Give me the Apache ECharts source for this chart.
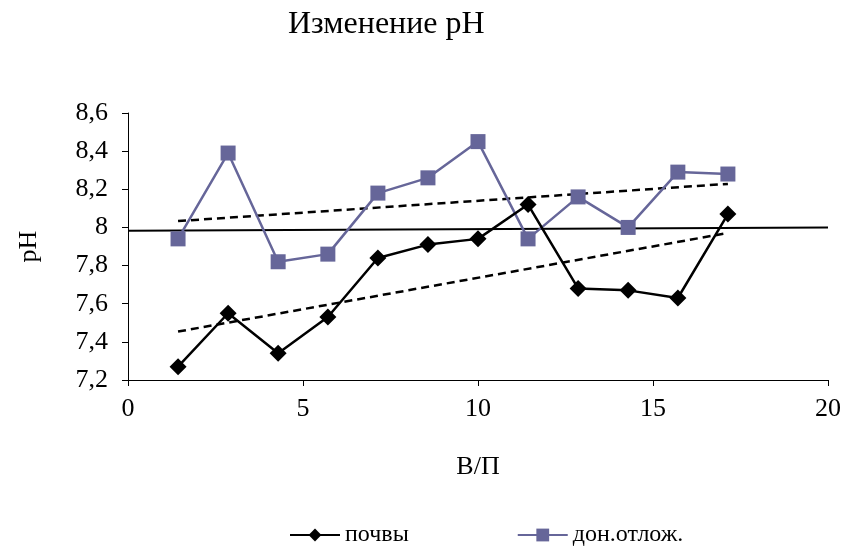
<!DOCTYPE html>
<html>
<head>
<meta charset="utf-8">
<script src="https://cdn.jsdelivr.net/npm/echarts@6/dist/echarts.min.js"></script>
<style>
  html, body { margin: 0; padding: 0; background: #fff; }
  #chart { width: 844px; height: 546px; }
</style>
</head>
<body>
<div id="chart"></div>
<script>
// В/П values shared by both series
const xValues = [1.43, 2.86, 4.29, 5.71, 7.14, 8.57, 10, 11.43, 12.86, 14.29, 15.71, 17.14];
// pH of soils
const soilPH = [7.27, 7.55, 7.34, 7.53, 7.84, 7.91, 7.94, 8.12, 7.68, 7.67, 7.63, 8.07];
// pH of bottom sediments
const sedimentPH = [7.94, 8.39, 7.82, 7.86, 8.18, 8.26, 8.45, 7.94, 8.16, 8.00, 8.29, 8.28];
// reference level (pH ≈ 8) across the axis range
const refX = [0, 20];
const refY = [7.983, 8.0];
const seriesNames = ['почвы', 'дон.отлож.'];

const FONT = '"Liberation Serif", "Times New Roman", serif';

// least-squares linear trend evaluated at the first and last x
function trend(xs, ys) {
  const n = xs.length;
  const mx = xs.reduce((a, b) => a + b, 0) / n;
  const my = ys.reduce((a, b) => a + b, 0) / n;
  let sxy = 0, sxx = 0;
  for (let i = 0; i < n; i++) {
    sxy += (xs[i] - mx) * (ys[i] - my);
    sxx += (xs[i] - mx) * (xs[i] - mx);
  }
  const k = sxy / sxx, b = my - k * mx;
  const x0 = xs[0], x1 = xs[n - 1];
  return [[x0, b + k * x0], [x1, b + k * x1]];
}

const pairs = (xs, ys) => xs.map((x, i) => [x, ys[i]]);
const fmt = v => String(Math.round(v * 10) / 10).replace('.', ',');

const chart = echarts.init(document.getElementById('chart'));
chart.setOption({
  animation: false,
  backgroundColor: '#ffffff',
  title: {
    text: 'Изменение pH',
    left: 283,
    top: 4,
    textStyle: { fontFamily: FONT, fontSize: 32, fontWeight: 'normal', color: '#000' }
  },
  grid: { left: 128, right: 15, top: 113, bottom: 166 },
  xAxis: {
    type: 'value',
    min: 0, max: 20, interval: 5,
    name: 'В/П',
    nameLocation: 'middle',
    nameGap: 74,
    nameTextStyle: { fontFamily: FONT, fontSize: 26, color: '#000' },
    axisLine: { lineStyle: { color: '#000', width: 1 } },
    axisTick: { show: true, length: 6, lineStyle: { color: '#000' } },
    axisLabel: { fontFamily: FONT, fontSize: 26, color: '#000', margin: 16 },
    splitLine: { show: false }
  },
  yAxis: {
    type: 'value',
    min: 7.2, max: 8.6, interval: 0.2,
    name: 'pH',
    nameLocation: 'middle',
    nameRotate: 90,
    nameGap: 86,
    nameTextStyle: { fontFamily: FONT, fontSize: 26, color: '#000' },
    axisLine: { show: true, lineStyle: { color: '#000', width: 1 } },
    axisTick: { show: true, length: 6, lineStyle: { color: '#000' } },
    axisLabel: { fontFamily: FONT, fontSize: 26, color: '#000', margin: 20, formatter: fmt },
    splitLine: { show: false }
  },
  legend: {
    data: seriesNames,
    left: 284,
    top: 518,
    itemWidth: 50,
    itemHeight: 16,
    itemGap: 108,
    textStyle: { fontFamily: FONT, fontSize: 24, color: '#000' }
  },
  series: [
    {
      name: 'ref',
      type: 'line',
      data: pairs(refX, refY),
      symbol: 'none',
      lineStyle: { color: '#000', width: 2 },
      silent: true,
      z: 1
    },
    {
      name: 'trend-sediment',
      type: 'line',
      data: trend(xValues, sedimentPH),
      symbol: 'none',
      lineStyle: { color: '#000', width: 2.5, type: [8, 5] },
      silent: true,
      z: 2
    },
    {
      name: 'trend-soil',
      type: 'line',
      data: trend(xValues, soilPH),
      symbol: 'none',
      lineStyle: { color: '#000', width: 2.5, type: [8, 5] },
      silent: true,
      z: 2
    },
    {
      name: seriesNames[0],
      type: 'line',
      data: pairs(xValues, soilPH),
      symbol: 'diamond',
      symbolSize: 17,
      itemStyle: { color: '#000' },
      lineStyle: { color: '#000', width: 2.5 },
      z: 4
    },
    {
      name: seriesNames[1],
      type: 'line',
      data: pairs(xValues, sedimentPH),
      symbol: 'rect',
      symbolSize: 15,
      itemStyle: { color: '#666699' },
      lineStyle: { color: '#666699', width: 2.5 },
      z: 3
    }
  ]
});
</script>
</body>
</html>
